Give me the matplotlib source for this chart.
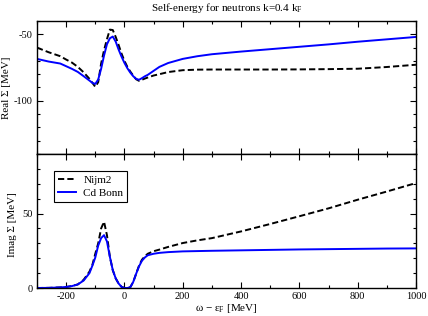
import matplotlib
matplotlib.use("Agg")
import matplotlib.pyplot as plt
from matplotlib.ticker import MultipleLocator

# energies omega - eps_F [MeV]
omega = [-300, -260, -220, -200, -180, -160, -140, -120, -110, -100, -90, -80, -70, -60,
         -50, -40, -30, -20, -10, 0, 10, 20, 30, 40, 50, 60, 70, 80, 100, 120, 150,
         200, 250, 300, 400, 500, 600, 700, 800, 900, 1000]

# real part of the self-energy
real_nijm2 = [-60, -63.5, -66.5, -69, -71.3, -74.5, -78.6, -83.5, -86.5, -89.5, -86, -72, -62, -53.7,
              -46.5, -46.8, -52, -58, -64.5, -70, -74.5, -78, -81, -83.8, -85, -84.2, -83.3, -82.5, -81, -80, -78.4,
              -77, -76.6, -76.5, -76.5, -76.5, -76.4, -76.2, -75.9, -74.6, -72.9]
real_cdbonn = [-68.5, -70.5, -72, -74, -76, -78.3, -81.5, -84.8, -86.5, -87.3, -84, -76, -66, -57.5,
               -53, -51.7, -55.5, -61.5, -66.8, -71.5, -75.5, -78.8, -81.5, -83.5, -84.2, -83, -81.6, -80.5, -77.5, -74.5, -71.6,
               -68.5, -66.5, -65, -63, -61.2, -59.4, -57.6, -55.6, -53.8, -52]

# imaginary part
imag_nijm2 = [0, 0.1, 0.4, 0.7, 1.3, 2.4, 5.5, 11, 15.5, 23, 30, 40, 44.5, 35.5,
              21, 12, 6.5, 3, 0.8, 0, 0, 0.5, 4, 9.5, 15, 19, 21.3, 23, 24.7, 25.8, 27.6,
              30.2, 32, 33.5, 38, 43, 48.2, 53.5, 59.3, 64.8, 70.5]
imag_cdbonn = [0, 0.1, 0.4, 0.7, 1.3, 2.4, 5, 10, 15, 20.5, 28.5, 33.5, 35.5, 31.3,
               21, 12, 6.5, 3, 0.8, 0, 0, 0.5, 4, 9.5, 14.5, 18.3, 20.5, 22, 23, 23.6, 24.1,
               24.6, 24.8, 25, 25.3, 25.6, 25.9, 26.1, 26.3, 26.5, 26.6]

plt.rcParams["font.family"] = ["Liberation Serif", "DejaVu Serif"]
plt.rcParams["mathtext.fontset"] = "custom"
plt.rcParams["mathtext.rm"] = "Liberation Serif"
plt.rcParams["axes.unicode_minus"] = False   # plain hyphen on the ticks
plt.rcParams["font.size"] = 7.5

fig = plt.figure(figsize=(4.28, 3.16), dpi=100)
ax_re = fig.add_axes([0.0864, 0.5127, 0.8855, 0.4209])
ax_im = fig.add_axes([0.0864, 0.0886, 0.8855, 0.424], sharex=ax_re)

def style_axis(ax):
    """ticks inside on every side, like xmgrace"""
    ax.tick_params(which="both", direction="in", top=True, right=True, width=0.8, labelsize=7.5)
    ax.tick_params(which="major", length=4.3, pad=3)
    ax.tick_params(which="minor", length=2.3)
    ax.xaxis.set_major_locator(MultipleLocator(200))
    ax.xaxis.set_minor_locator(MultipleLocator(100))
    ax.yaxis.set_minor_locator(MultipleLocator(10))
    ax.yaxis.set_major_locator(MultipleLocator(50))
    for s in ax.spines.values():
        s.set_linewidth(1.0)

# top panel - real part
ax_re.plot(omega, real_nijm2, color="black", lw=1.4, dashes=(3.2, 1.6), label="Nijm2")
ax_re.plot(omega, real_cdbonn, color="#0000ff", lw=1.4, label="Cd Bonn")
ax_re.set_ylim(-140, -40)
ax_re.set_ylabel("Real \u03a3 [MeV]", fontsize=8)
ax_re.yaxis.set_label_coords(-0.068, 0.5)
style_axis(ax_re)
ax_re.tick_params(labelbottom=False)
ax_re.set_title("Self-energy for neutrons k=0.4 k$_\\mathrm{F}$", fontsize=8, pad=7)

# bottom panel - imaginary part
ax_im.plot(omega, imag_nijm2, color="black", lw=1.4, dashes=(3.2, 1.6), label="Nijm2")
ax_im.plot(omega, imag_cdbonn, color="#0000ff", lw=1.4, label="Cd Bonn")
ax_im.set_ylim(0, 90)
ax_im.set_xlim(-300, 1000)
ax_im.set_ylabel("Imag \u03a3 [MeV]", fontsize=8)
ax_im.yaxis.set_label_coords(-0.053, 0.47)
ax_im.set_xlabel("\u03c9 \u2212 \u03b5$_\\mathrm{F}$ [MeV]", fontsize=8, labelpad=0.5)
style_axis(ax_im)

leg = ax_im.legend(loc="upper left", bbox_to_anchor=(0.046, 0.873), borderaxespad=0,
                   fancybox=False, edgecolor="black", framealpha=1, handlelength=1.6,
                   handletextpad=0.65, borderpad=0.35, labelspacing=0.35, fontsize=8)
leg.get_frame().set_linewidth(0.8)

fig.savefig("out.png", dpi=100)
